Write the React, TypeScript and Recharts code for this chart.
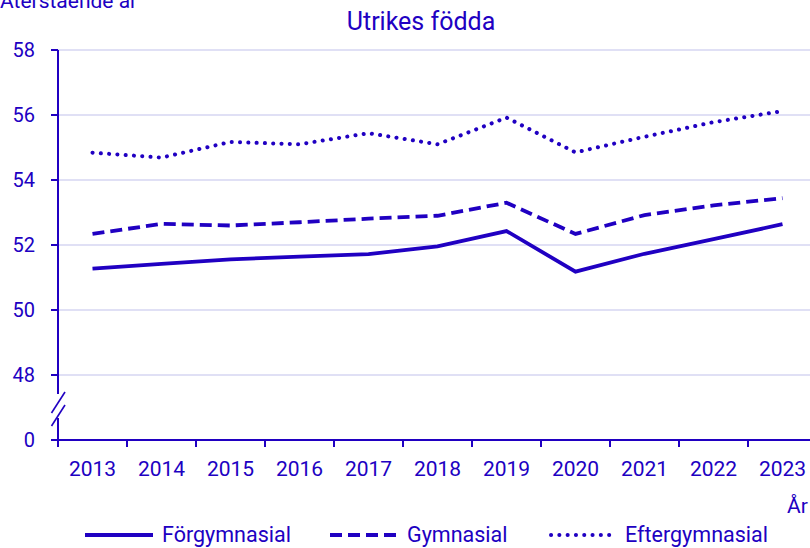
import { CartesianGrid, Line, LineChart, XAxis, YAxis } from 'recharts'

const years = ['2013', '2014', '2015', '2016', '2017', '2018', '2019', '2020', '2021', '2022', '2023']
const forgymnasial = [51.27, 51.42, 51.56, 51.64, 51.72, 51.96, 52.43, 51.18, 51.73, 52.18, 52.64]
const gymnasial = [52.34, 52.65, 52.6, 52.7, 52.81, 52.9, 53.3, 52.34, 52.92, 53.22, 53.44]
const eftergymnasial = [54.84, 54.69, 55.17, 55.1, 55.44, 55.1, 55.92, 54.85, 55.33, 55.78, 56.12]
// 46 stands in for the broken-axis "0"
const yTicks = [46, 48, 50, 52, 54, 56, 58]

const BLUE = '#2000c2'
const GRID = '#d6d6f2'
const FONT = 'Roboto, "Noto Sans", sans-serif'

const SERIES = [
  { key: 'forgymnasial', label: 'Förgymnasial', dash: undefined, cap: 'butt' },
  { key: 'gymnasial', label: 'Gymnasial', dash: '12 6', cap: 'butt' },
  { key: 'eftergymnasial', label: 'Eftergymnasial', dash: '0.1 8.2', cap: 'round' },
]

const data = years.map((year, i) => ({
  year,
  forgymnasial: forgymnasial[i],
  gymnasial: gymnasial[i],
  eftergymnasial: eftergymnasial[i],
}))

const CHART_W = 820
const CHART_H = 548
const MARGIN = { top: 50, right: 3, left: 0, bottom: 78 }
const Y_W = 58
const BAND = (CHART_W - MARGIN.left - MARGIN.right - Y_W) / years.length

function XTick({ x, y, payload }: any) {
  const left = x - BAND / 2
  return (
    <g>
      <line x1={left} y1={y} x2={left} y2={y + 7} stroke={BLUE} strokeWidth={2} />
      <text x={x} y={y + 36} textAnchor="middle" fill={BLUE} fontSize={21} fontFamily={FONT}>
        {payload.value}
      </text>
    </g>
  )
}

function YTick({ x, y, payload }: any) {
  const isBreak = payload.value === yTicks[0]
  return (
    <g>
      <line x1={x - 7} y1={y} x2={x} y2={y} stroke={BLUE} strokeWidth={2} />
      <text x={x - 23} y={y + 7} textAnchor="end" fill={BLUE} fontSize={20} fontFamily={FONT}>
        {isBreak ? '0' : payload.value}
      </text>
      {isBreak && (
        <g>
          <rect x={x - 2} y={y - 46} width={4} height={24} fill="#fff" />
          <line x1={x - 6.5} y1={y - 27} x2={x + 7} y2={y - 48} stroke={BLUE} strokeWidth={1.6} />
          <line x1={x - 6.5} y1={y - 14} x2={x + 7} y2={y - 35} stroke={BLUE} strokeWidth={1.6} />
        </g>
      )}
    </g>
  )
}

function LegendItem({ dash, cap, label }: { dash?: string; cap: string; label: string }) {
  return (
    <div style={{ display: 'flex', alignItems: 'center', gap: 7 }}>
      <svg width={70} height={10}>
        <line x1={cap === 'round' ? 3 : 0} y1={5} x2={68} y2={5} stroke={BLUE} strokeWidth={4}
          strokeDasharray={dash} strokeLinecap={cap as any} />
      </svg>
      <span>{label}</span>
    </div>
  )
}

export default function App() {
  return (
    <div style={{ position: 'absolute', left: 0, top: 0, width: 810, height: 548, overflow: 'hidden', background: '#fff', fontFamily: FONT, color: BLUE }}>
      <div style={{ position: 'absolute', left: 0, top: -10, fontSize: 21, lineHeight: '22px', whiteSpace: 'nowrap' }}>Återstående år</div>
      <div style={{ position: 'absolute', left: 0, width: 842, top: 8, textAlign: 'center', fontSize: 25, lineHeight: '28px' }}>Utrikes födda</div>
      <div style={{ position: 'absolute', left: 787, top: 495, fontSize: 21, lineHeight: '22px' }}>År</div>
      <LineChart width={CHART_W} height={CHART_H} data={data} margin={MARGIN}>
        <CartesianGrid vertical={false} stroke={GRID} strokeWidth={1.5} horizontalValues={yTicks.slice(1)} />
        <XAxis dataKey="year" scale="band" interval={0} height={30} tickSize={0} tickMargin={0} tickLine={false}
          axisLine={{ stroke: BLUE, strokeWidth: 2 }} tick={<XTick />} />
        <YAxis type="number" domain={[46, 58]} ticks={yTicks} width={Y_W} tickSize={0} tickMargin={0} tickLine={false}
          axisLine={{ stroke: BLUE, strokeWidth: 2 }} tick={<YTick />} allowDataOverflow />
        {SERIES.map(s => (
          <Line key={s.key} type="linear" dataKey={s.key} name={s.label} stroke={BLUE}
            strokeWidth={s.cap === 'round' ? 4 : 3.8} strokeDasharray={s.dash} strokeLinecap={s.cap as any}
            dot={false} activeDot={false} isAnimationActive={false} />
        ))}
      </LineChart>
      <div style={{ position: 'absolute', top: 523, left: 85, fontSize: 21.5, lineHeight: '24px', display: 'flex' }}>
        <div style={{ width: 245 }}><LegendItem {...SERIES[0]} /></div>
        <div style={{ width: 218 }}><LegendItem {...SERIES[1]} /></div>
        <LegendItem {...SERIES[2]} />
      </div>
    </div>
  )
}
